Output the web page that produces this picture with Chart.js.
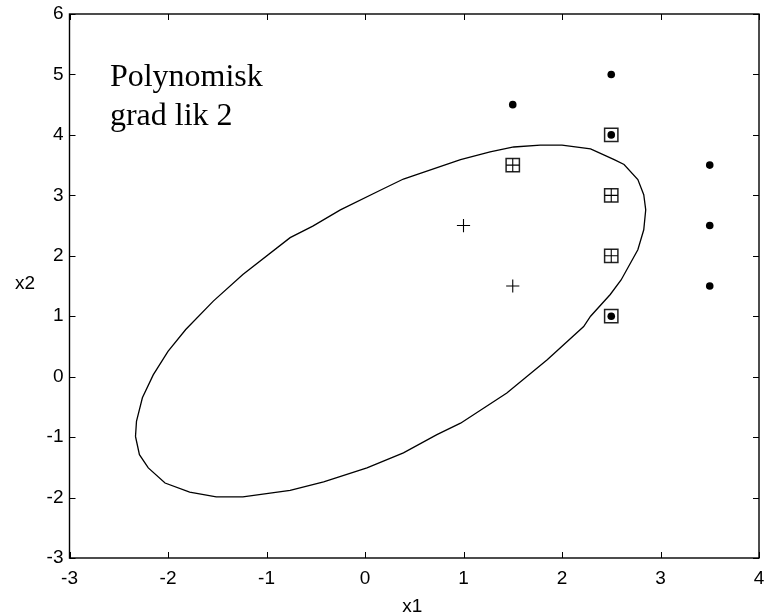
<!DOCTYPE html>
<html>
<head>
<meta charset="utf-8">
<script src="https://cdn.jsdelivr.net/npm/chart.js@4/dist/chart.umd.min.js"></script>
<style>
  html, body { margin: 0; padding: 0; background: #fff; overflow: hidden; }
  #wrap { width: 766px; height: 616px; position: relative; }
  canvas { display: block; }
</style>
</head>
<body>
<div id="wrap"><canvas id="c"></canvas></div>
<script>
// ---- data ----
const curveX = [-2.33, -2.29, -2.20, -2.03, -1.78, -1.51, -1.24, -0.76, -0.42, 0.02, 0.39, 0.73, 0.97, 1.44, 1.85, 2.22, 2.29, 2.49, 2.60, 2.77, 2.83, 2.85, 2.83, 2.77, 2.63, 2.53, 2.29, 2.00, 1.78, 1.51, 1.27, 0.97, 0.39, 0.15, -0.25, -0.53, -0.76, -1.24, -1.54, -1.82, -2.00, -2.15, -2.26, -2.32, -2.33];
const curveY = [-0.99, -1.29, -1.51, -1.76, -1.91, -1.99, -1.99, -1.88, -1.74, -1.51, -1.26, -0.96, -0.77, -0.27, 0.28, 0.83, 1.00, 1.36, 1.60, 2.10, 2.43, 2.76, 3.01, 3.26, 3.51, 3.59, 3.77, 3.83, 3.83, 3.80, 3.72, 3.59, 3.27, 3.08, 2.76, 2.49, 2.30, 1.69, 1.25, 0.78, 0.42, 0.03, -0.35, -0.74, -0.99];

const dotX = [1.5, 2.5, 2.5, 3.5, 3.5, 3.5, 2.5];
const dotY = [4.5, 5.0, 4.0, 3.5, 2.5, 1.5, 1.0];

const plusX = [1.0, 1.5, 1.5, 2.5, 2.5];
const plusY = [2.5, 1.5, 3.5, 3.0, 2.0];

const boxX = [1.5, 2.5, 2.5, 2.5, 2.5];
const boxY = [3.5, 4.0, 3.0, 2.0, 1.0];

const xTicks = [-3, -2, -1, 0, 1, 2, 3, 4];
const yTicks = [-3, -2, -1, 0, 1, 2, 3, 4, 5, 6];

const noteLines = ["Polynomisk", "grad lik 2"];
const noteX = -2.59;
const noteY = [4.81, 4.16];
const xTitle = "x1";
const yTitle = "x2";

const pts = (xs, ys) => xs.map((x, i) => ({ x: x, y: ys[i] }));
const zeroPad = () => ({ left: 0, right: 0, top: 0, bottom: 0 });
const TICK_FONT = '19px "Liberation Sans", Arial, sans-serif';

const frame = {
  id: 'frame',
  afterDraw(chart) {
    const ctx = chart.ctx;
    const a = chart.chartArea;
    const xs = chart.scales.x, ys = chart.scales.y;
    ctx.save();
    ctx.strokeStyle = '#000';
    ctx.lineWidth = 1.4;
    ctx.strokeRect(a.left, a.top, a.right - a.left, a.bottom - a.top);
    ctx.lineWidth = 1;
    const tl = 6;
    ctx.beginPath();
    xTicks.forEach(v => {
      const p = Math.round(xs.getPixelForValue(v)) + 0.5;
      ctx.moveTo(p, a.bottom); ctx.lineTo(p, a.bottom - tl);
      ctx.moveTo(p, a.top); ctx.lineTo(p, a.top + tl);
    });
    yTicks.forEach(v => {
      const p = Math.round(ys.getPixelForValue(v)) + 0.5;
      ctx.moveTo(a.left, p); ctx.lineTo(a.left + tl, p);
      ctx.moveTo(a.right, p); ctx.lineTo(a.right - tl, p);
    });
    ctx.stroke();
    ctx.fillStyle = '#000';
    // x tick labels (positions from the x scale)
    ctx.font = TICK_FONT;
    ctx.textAlign = 'center';
    ctx.textBaseline = 'middle';
    xTicks.forEach(v => {
      ctx.fillText(String(v), xs.getPixelForValue(v), a.bottom + 21);
    });
    // note text
    ctx.font = '32px "Liberation Serif", "Times New Roman", serif';
    ctx.textAlign = 'left';
    ctx.textBaseline = 'alphabetic';
    noteLines.forEach((t, i) => {
      ctx.fillText(t, xs.getPixelForValue(noteX), ys.getPixelForValue(noteY[i]));
    });
    // axis titles
    ctx.font = TICK_FONT;
    ctx.textAlign = 'center';
    ctx.textBaseline = 'alphabetic';
    ctx.fillText(xTitle, (a.left + a.right) / 2 - 2, 612);
    ctx.fillText(yTitle, 25, 289);
    ctx.restore();
  }
};

new Chart(document.getElementById('c'), {
  type: 'scatter',
  data: {
    datasets: [
      {
        data: pts(curveX, curveY),
        showLine: true,
        borderColor: '#000',
        borderWidth: 1.3,
        pointRadius: 0,
        tension: 0,
        fill: false
      },
      {
        data: pts(dotX, dotY),
        pointStyle: 'circle',
        pointRadius: 3.8,
        backgroundColor: '#000',
        borderColor: '#000',
        borderWidth: 0
      },
      {
        data: pts(plusX, plusY),
        pointStyle: 'cross',
        pointRadius: 6.6,
        borderColor: '#000',
        borderWidth: 1.1,
        backgroundColor: 'transparent'
      },
      {
        data: pts(boxX, boxY),
        pointStyle: 'rect',
        pointRadius: 9.4,
        borderColor: '#222',
        borderWidth: 1.5,
        backgroundColor: 'transparent'
      }
    ]
  },
  options: {
    responsive: true,
    maintainAspectRatio: false,
    animation: false,
    events: [],
    layout: { autoPadding: false, padding: { top: 14, right: 7, left: 0, bottom: 0 } },
    plugins: {
      legend: { display: false },
      tooltip: { enabled: false },
      title: { display: false }
    },
    scales: {
      x: {
        type: 'linear',
        min: -3, max: 4,
        afterBuildTicks: s => { s.ticks = xTicks.map(v => ({ value: v })); },
        afterFit: s => { s.height = 58; s.paddingLeft = 0; s.paddingRight = 0; s.getPadding = zeroPad; },
        grid: { display: false, drawTicks: false },
        border: { display: false },
        ticks: { display: false }
      },
      y: {
        type: 'linear',
        min: -3, max: 6,
        afterBuildTicks: s => { s.ticks = yTicks.map(v => ({ value: v })); },
        afterFit: s => { s.width = 69.5; s.paddingTop = 0; s.paddingBottom = 0; s.getPadding = zeroPad; },
        grid: { display: false, drawTicks: false },
        border: { display: false },
        ticks: {
          color: '#000',
          padding: 6,
          autoSkip: false,
          font: { family: '"Liberation Sans", Arial, sans-serif', size: 19 }
        }
      }
    }
  },
  plugins: [frame]
});
</script>
</body>
</html>
